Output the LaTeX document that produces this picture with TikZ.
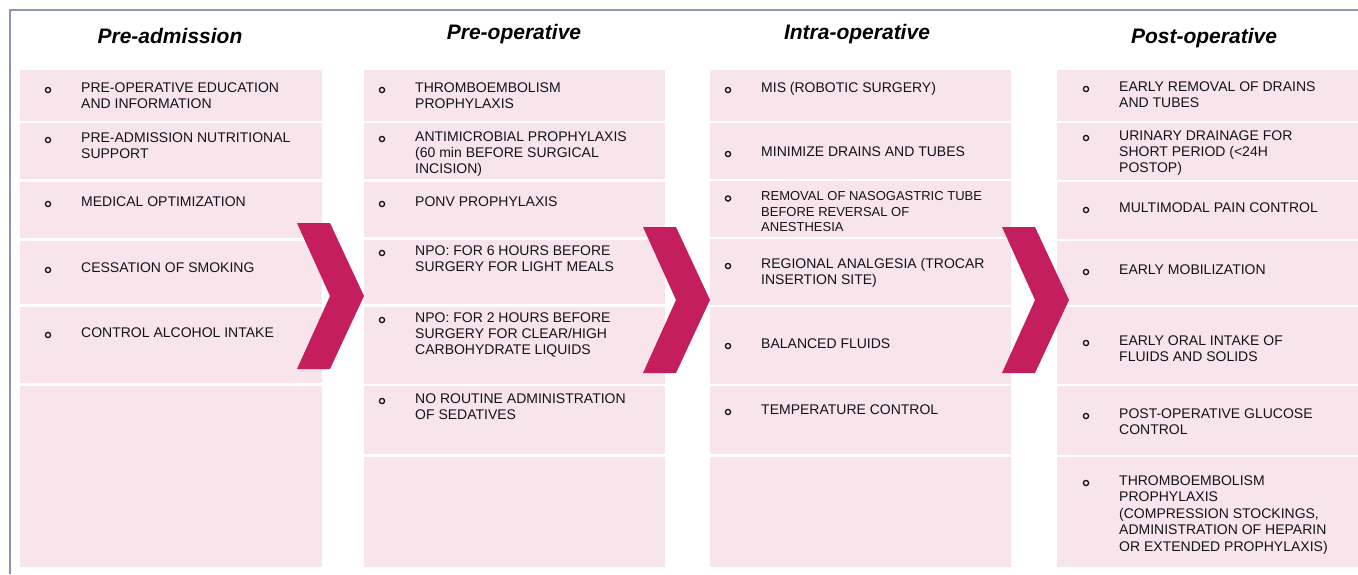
\documentclass[tikz,border=0pt]{standalone}
\usepackage{fontspec}
\setmainfont{Liberation Sans}
\usetikzlibrary{positioning}

\definecolor{cellpink}{RGB}{248,229,236}
\definecolor{chevred}{RGB}{197,30,95}
\definecolor{framegray}{RGB}{138,147,178}
\definecolor{inkgray}{RGB}{18,18,26}

% one list entry: text node plus its hollow bullet
\newcommand{\bulletitem}[4]{%
  \node[item] (#1) at (#2,#3) {#4};
  \draw[bul] ([xshift=-33pt,yshift=-7.5pt]#1.north west) circle (2.6pt);}
% magenta chevron between two phases
\newcommand{\chevronat}[2]{%
  \fill[chevred] (#1,#2) -- ++(33,0) -- ++(34,73) -- ++(-34,73) -- ++(-33,0) -- ++(33,-73) -- cycle;}

\begin{document}
\begin{tikzpicture}[x=1pt, y=-1pt,
    item/.style={anchor=north west, inner sep=0pt, yshift=-1.5pt, align=left, text=inkgray,
                 font=\fontsize{14}{16}\selectfont},
    bul/.style={draw=inkgray, line width=1.3pt},
    phase/.style={anchor=base, inner sep=0pt, font=\fontsize{21}{24}\selectfont\bfseries\itshape},
    sep/.style={white, line width=2.5pt}]
    \useasboundingbox (0,0) rectangle (1358,574);
    \draw[framegray, line width=2pt] (10,574) -- (10,10) -- (1358,10);

    % columns
    \fill[cellpink] (20,70) rectangle (322,567);
    \fill[cellpink] (364,70) rectangle (665,567);
    \fill[cellpink] (710,70) rectangle (1011,567);
    \fill[cellpink] (1057,70) rectangle (1358,567);
    \foreach \y in {122,180.5,239.5,305.5,384.5} \draw[sep] (20,\y) -- (322,\y);
    \foreach \y in {122,180.5,238.5,305.5,385,455.5} \draw[sep] (364,\y) -- (665,\y);
    \foreach \y in {122,180,238,306,385,455.5} \draw[sep] (710,\y) -- (1011,\y);
    \foreach \y in {122,181,240,306,385,456} \draw[sep] (1057,\y) -- (1358,\y);

    % headings
    \node[phase] (h1) at (170,43) {Pre-admission};
    \node[phase] (h2) at (514,39) {Pre-operative};
    \node[phase] (h3) at (857,39) {Intra-operative};
    \node[phase] (h4) at (1204,43) {Post-operative};

    % pre-admission
    \bulletitem{a1}{81}{81}{PRE-OPERATIVE EDUCATION\\AND INFORMATION}
    \bulletitem{a2}{81}{131}{PRE-ADMISSION NUTRITIONAL\\SUPPORT}
    \bulletitem{a3}{81}{195}{MEDICAL OPTIMIZATION}
    \bulletitem{a4}{81}{261}{CESSATION OF SMOKING}
    \bulletitem{a5}{81}{326}{CONTROL ALCOHOL INTAKE}

    % pre-operative
    \bulletitem{b1}{415}{81}{THROMBOEMBOLISM\\PROPHYLAXIS}
    \bulletitem{b2}{415}{130}{ANTIMICROBIAL PROPHYLAXIS\\(60 min BEFORE SURGICAL\\INCISION)}
    \bulletitem{b3}{415}{195}{PONV PROPHYLAXIS}
    \bulletitem{b4}{415}{244}{NPO: FOR 6 HOURS BEFORE\\SURGERY FOR LIGHT MEALS}
    \bulletitem{b5}{415}{311}{NPO: FOR 2 HOURS BEFORE\\SURGERY FOR CLEAR/HIGH\\CARBOHYDRATE LIQUIDS}
    \bulletitem{b6}{415}{392}{NO ROUTINE ADMINISTRATION\\OF SEDATIVES}

    % intra-operative
    \bulletitem{c1}{761}{81}{MIS (ROBOTIC SURGERY)}
    \bulletitem{c2}{761}{145}{MINIMIZE DRAINS AND TUBES}
    \node[item, font=\fontsize{13}{15.5}\selectfont] (c3) at (761,190) {REMOVAL OF NASOGASTRIC TUBE\\BEFORE REVERSAL OF\\ANESTHESIA};
    \draw[bul] ([xshift=-33pt,yshift=-7pt]c3.north west) circle (2.6pt);
    \bulletitem{c4}{761}{257}{REGIONAL ANALGESIA (TROCAR\\INSERTION SITE)}
    \bulletitem{c5}{761}{337}{BALANCED FLUIDS}
    \bulletitem{c6}{761}{403}{TEMPERATURE CONTROL}

    % post-operative
    \bulletitem{d1}{1119}{80}{EARLY REMOVAL OF DRAINS\\AND TUBES}
    \bulletitem{d2}{1119}{129}{URINARY DRAINAGE FOR\\SHORT PERIOD (<24H\\POSTOP)}
    \bulletitem{d3}{1119}{201}{MULTIMODAL PAIN CONTROL}
    \bulletitem{d4}{1119}{263}{EARLY MOBILIZATION}
    \bulletitem{d5}{1119}{334}{EARLY ORAL INTAKE OF\\FLUIDS AND SOLIDS}
    \bulletitem{d6}{1119}{407}{POST-OPERATIVE GLUCOSE\\CONTROL}
    \node[item, font=\fontsize{14}{16.5}\selectfont] (d7) at (1119,474) {THROMBOEMBOLISM\\PROPHYLAXIS\\(COMPRESSION STOCKINGS,\\ADMINISTRATION OF HEPARIN\\OR EXTENDED PROPHYLAXIS)};
    \draw[bul] ([xshift=-33pt,yshift=-7.5pt]d7.north west) circle (2.6pt);

    % chevrons
    \chevronat{297}{223}
    \chevronat{643}{227}
    \chevronat{1002}{227}
\end{tikzpicture}
\end{document}
